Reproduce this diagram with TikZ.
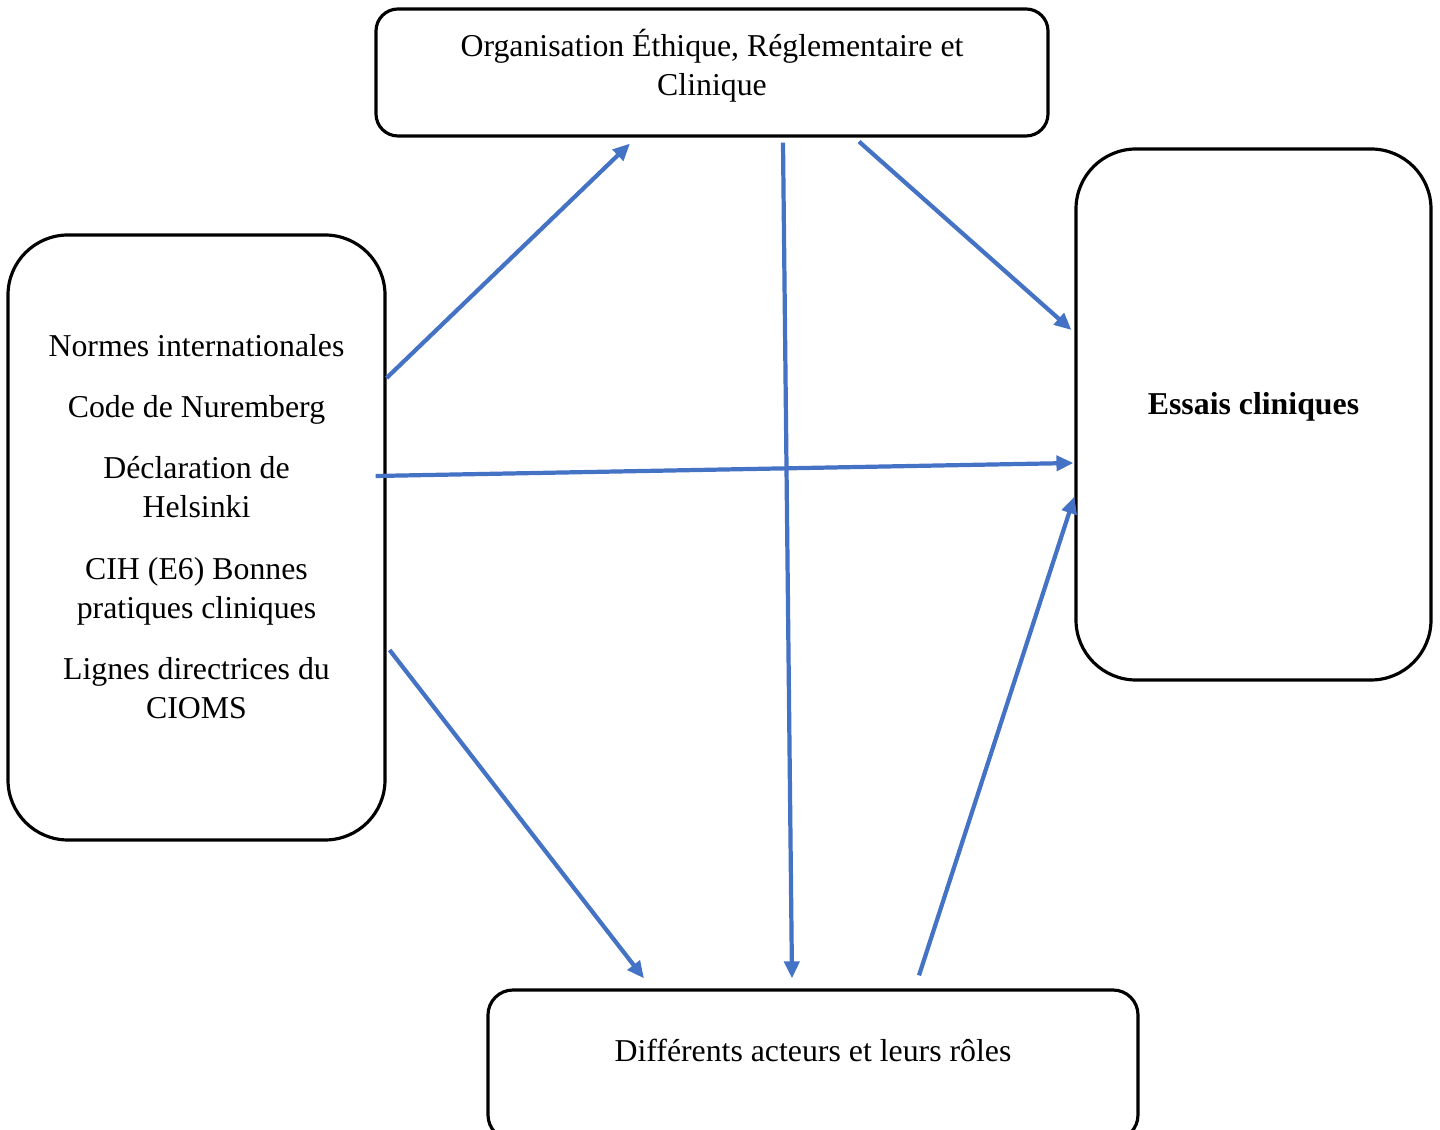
\documentclass[tikz,border=0pt]{standalone}
\usepackage{fontspec}
\setmainfont{Liberation Serif}
\usetikzlibrary{arrows.meta}
\definecolor{linkblue}{HTML}{4472C4}

\begin{document}
\begin{tikzpicture}
    \tikzset{
        box/.style={draw=black, line width=0.9pt, fill=white, inner sep=0pt},
        txt/.style={align=center, inner sep=0pt, font=\fontsize{9.05}{11.1}\selectfont},
        link/.style={draw=linkblue, line width=1.2pt, -{Triangle[length=0.17cm,width=0.15cm]}}
    }
    \useasboundingbox (0,0) rectangle (14.4,-11.3);
    \clip (0,0) rectangle (14.4,-11.3);
    % boxes
    \node [box, rounded corners=0.22cm, minimum width=6.72cm, minimum height=1.27cm] (org) at (7.12,-0.725) {};
    \node [box, rounded corners=0.6cm, minimum width=3.77cm, minimum height=6.05cm] (norms) at (1.965,-5.375) {};
    \node [box, rounded corners=0.6cm, minimum width=3.55cm, minimum height=5.31cm] (trials) at (12.535,-4.145) {};
    \node [box, rounded corners=0.25cm, minimum width=6.5cm, minimum height=1.5cm] (actors) at (8.13,-10.65) {};
    % texts
    \node [txt] (orgtxt) at ([yshift=0.07cm]org.center) {Organisation Éthique, Réglementaire et\\Clinique};
    \node [txt] (normstxt) at ([yshift=0.105cm]norms.center) {Normes internationales\\[0.22cm]
        Code de Nuremberg\\[0.22cm]
        Déclaration de\\Helsinki\\[0.23cm]
        CIH (E6) Bonnes\\pratiques cliniques\\[0.22cm]
        Lignes directrices du\\CIOMS};
    \node [txt, font=\fontsize{9.05}{11.1}\selectfont\bfseries] (trialstxt) at ([yshift=0.075cm]trials.center) {Essais cliniques};
    \node [txt] (actorstxt) at ([yshift=0.15cm]actors.center) {Différents acteurs et leurs rôles};
    % connectors
    \draw [link] ([yshift=1.595cm]norms.east) -- ([xshift=-0.82cm,yshift=-0.06cm]org.south);
    \draw [link] ([xshift=-0.11cm,yshift=0.615cm]norms.east) -- ([xshift=-0.01cm,yshift=-0.485cm]trials.west);
    \draw [link] ([xshift=0.03cm,yshift=-1.125cm]norms.east) -- ([xshift=-1.69cm,yshift=0.1cm]actors.north);
    \draw [link] ([xshift=0.71cm,yshift=-0.05cm]org.south) -- ([xshift=-0.21cm,yshift=0.1cm]actors.north);
    \draw [link] ([xshift=1.47cm,yshift=-0.04cm]org.south) -- ([xshift=-0.03cm,yshift=0.845cm]trials.west);
    \draw [link] ([xshift=1.06cm,yshift=0.13cm]actors.north) -- ([yshift=-0.82cm]trials.west);
\end{tikzpicture}
\end{document}
